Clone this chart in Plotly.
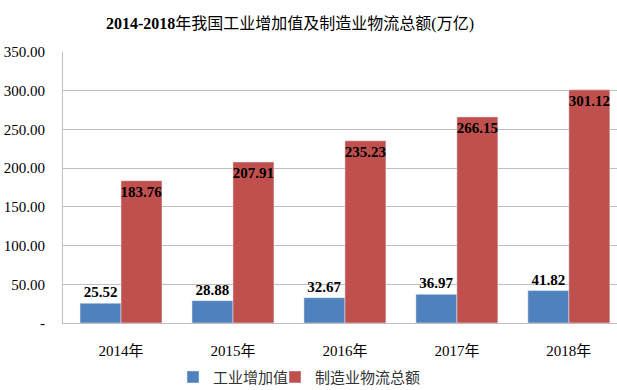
import plotly.graph_objects as go

years = ["2014年", "2015年", "2016年", "2017年", "2018年"]
industrial_value = [25.52, 28.88, 32.67, 36.97, 41.82]
logistics_total = [183.76, 207.91, 235.23, 266.15, 301.12]
series_names = ["工业增加值", "制造业物流总额"]
y_tick_vals = [0, 50, 100, 150, 200, 250, 300, 350]
y_tick_text = ["-", "50.00", "100.00", "150.00", "200.00", "250.00", "300.00", "350.00"]

x_pos = list(range(len(years)))
serif = "Liberation Serif, Times New Roman, Noto Sans CJK SC, serif"
legend_font = dict(family="Noto Sans CJK SC, sans-serif", size=15, color="#333333")

fig = go.Figure()
fig.add_trace(go.Bar(
    x=x_pos, y=industrial_value, name=series_names[0],
    marker_color="#4F81BD", legend="legend",
    text=[f"{v:.2f}" for v in industrial_value],
    textposition="outside", cliponaxis=False, textangle=0,
    constraintext="none",
    textfont=dict(family=serif, size=15, color="black", weight="bold"),
))
fig.add_trace(go.Bar(
    x=x_pos, y=logistics_total, name=series_names[1],
    marker_color="#C0504D", legend="legend2",
    text=[f"{v:.2f}" for v in logistics_total],
    textposition="inside", insidetextanchor="end", textangle=0,
    constraintext="none",
    textfont=dict(family=serif, size=15, color="black", weight="bold"),
))

fig.update_layout(
    width=617, height=390,
    margin=dict(l=63, r=0, t=52, b=67, autoexpand=False),
    paper_bgcolor="white", plot_bgcolor="white",
    barmode="group", bargap=0.268, bargroupgap=0,
    title=dict(
        text="<b>2014-2018</b>年我国工业增加值及制造业物流总额(万亿)",
        x=290/617, xanchor="center", xref="container",
        y=1 - 23/390, yanchor="middle", yref="container",
        font=dict(family=serif, size=16, color="black"),
    ),
    xaxis=dict(
        tickvals=x_pos, ticktext=years,
        range=[-0.518, 4.43],
        showgrid=False, showline=True, linecolor="#BFBFBF", linewidth=1,
        ticks="", ticklabelstandoff=14, automargin=False,
        tickfont=dict(family=serif, size=15, color="black"),
    ),
    yaxis=dict(
        range=[0, 350], tickvals=y_tick_vals, ticktext=y_tick_text,
        showgrid=True, gridcolor="#BFBFBF", gridwidth=1,
        showline=True, linecolor="#BFBFBF", linewidth=1,
        zeroline=False, ticks="", ticklabelstandoff=14, automargin=False,
        tickfont=dict(family=serif, size=15, color="black"),
    ),
    legend=dict(
        orientation="h", x=(173-63)/554, xanchor="left", y=-0.2, yanchor="middle",
        font=legend_font, itemwidth=30, bgcolor="rgba(0,0,0,0)",
    ),
    legend2=dict(
        orientation="h", x=(275-63)/554, xanchor="left", y=-0.2, yanchor="middle",
        font=legend_font, itemwidth=30, bgcolor="rgba(0,0,0,0)",
    ),
    showlegend=True,
)

fig.write_html(
    "out.html",
    config={"displayModeBar": False},
    post_script="document.body.style.margin='0';document.body.style.padding='0';",
)
